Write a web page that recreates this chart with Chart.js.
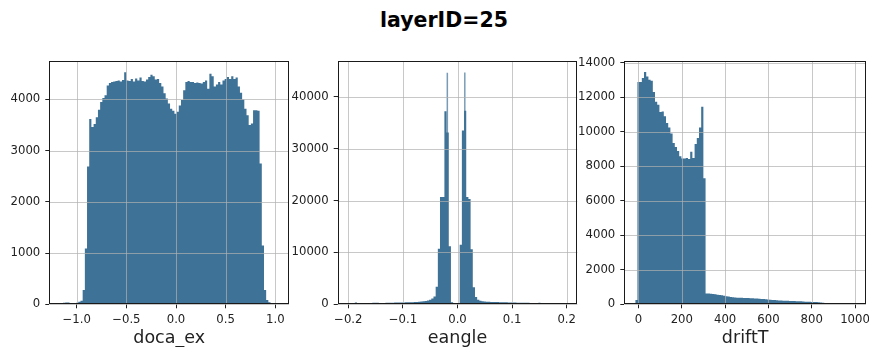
<!DOCTYPE html>
<html><head><meta charset="utf-8">
<script src="https://cdn.jsdelivr.net/npm/chart.js@4.4.1/dist/chart.umd.min.js"></script>
<style>
html,body{margin:0;padding:0;background:#fff;width:869px;height:347px;overflow:hidden;position:relative}
canvas{position:absolute;top:0}
#title{position:absolute;top:10px;left:0;width:888px;text-align:center;font:bold 20.5px "DejaVu Sans";line-height:20px;color:#000}
</style></head><body>
<div id="title">layerID=25</div>
<canvas id="c1" width="309" height="347" style="left:0px"></canvas>
<canvas id="c2" width="309" height="347" style="left:288px"></canvas>
<canvas id="c3" width="311" height="347" style="left:575px"></canvas>
<script>
// ---- doca_ex histogram (100 bins) ----
const docaLo = -1.16;
const docaBinWidth = 0.022;
const docaCounts = [
  15, 30, 35, 35, 25, 20, 15, 30, 50, 70,
  280, 1090, 2690, 3620, 3460, 3520, 3650, 3800, 3950, 4030,
  4080, 4270, 4320, 4340, 4350, 4360, 4370, 4350, 4380, 4530,
  4370, 4360, 4400, 4350, 4410, 4370, 4430, 4360, 4350, 4390,
  4440, 4480, 4450, 4390, 4400, 4320, 4250, 4120, 4020, 3920,
  3820, 3780, 3720, 3760, 3880, 3990, 4180, 4340, 4360, 4340,
  4340, 4320, 4330, 4320, 4310, 4340, 4370, 4210, 4500, 4450,
  4250, 4290, 4340, 4290, 4370, 4400, 4440, 4400, 4450, 4400,
  4430, 4250, 4130, 4000, 3820, 3690, 3500, 3530, 3790, 3790,
  3780, 2750, 1150, 280, 85, 40, 15, 5, 0, 2
];
// ---- eangle histogram (100 bins) ----
const eangleLo = -0.2;
const eangleBinWidth = 0.004;
const eangleCounts = [
  0, 0, 0, 350, 0, 0, 0, 0, 0, 0,
  250, 300, 300, 280, 200, 0, 250, 280, 300, 300,
  320, 330, 340, 350, 360, 370, 380, 390, 400, 410,
  430, 450, 480, 520, 580, 650, 750, 900, 1100, 1500,
  3400, 10700, 20700, 20700, 37200, 33100, 11200, 400, 50, 0,
  0, 11500, 33500, 37300, 20700, 20300, 10600, 3300, 1400, 900,
  700, 600, 550, 500, 480, 460, 440, 430, 420, 410,
  400, 390, 380, 370, 350, 340, 330, 320, 310, 300,
  300, 290, 280, 270, 260, 250, 100, 300, 0, 0,
  0, 0, 0, 0, 0, 0, 0, 0, 0, 0
];
const eangleSpikeX = [-0.020, 0.012];
const eangleSpikeCounts = [44650, 44700];
// ---- driftT histogram (100 bins) ----
const driftLo = -15;
const driftBinWidth = 10.15;
const driftCounts = [
  250, 12880, 12880, 13120, 13460, 13200, 13020, 12950, 12300, 11740,
  11570, 11150, 11180, 10900, 10500, 10240, 9900, 9350, 9120, 8880,
  8580, 8450, 8450, 8480, 8420, 8840, 8480, 9290, 9640, 10250,
  11450, 7300, 630, 620, 610, 590, 580, 560, 540, 520,
  500, 470, 450, 430, 410, 400, 385, 380, 375, 370,
  365, 360, 350, 345, 340, 330, 320, 310, 300, 290,
  275, 265, 255, 245, 230, 220, 215, 210, 205, 200,
  195, 190, 185, 180, 175, 170, 160, 155, 150, 145,
  140, 135, 130, 120, 110, 90, 15, 10, 10, 60,
  5, 5, 3, 3, 2, 2, 2, 1, 1, 2
];
// ---- ticks ----
const docaXTicks = [-1.0, -0.5, 0.0, 0.5, 1.0];
const docaYTicks = [0, 1000, 2000, 3000, 4000];
const eangleXTicks = [-0.2, -0.1, 0.0, 0.1, 0.2];
const eangleYTicks = [0, 10000, 20000, 30000, 40000];
const driftXTicks = [0, 200, 400, 600, 800, 1000];
const driftYTicks = [0, 2000, 4000, 6000, 8000, 10000, 12000, 14000];

const BAR = '#3f7297';
const FONT = 'DejaVu Sans';

// histogram outline: one point per bin edge, each bin's count held until the next edge
function binEdges(lo, w, counts) {
  const pts = counts.map((c, i) => ({x: lo + i * w, y: c}));
  pts.push({x: lo + counts.length * w, y: counts[counts.length - 1]});
  return pts;
}
function fmt1(v) { return (v < 0 ? '\u2212' : '') + Math.abs(v).toFixed(1); }

const gridOnTop = {
  id: 'gridOnTop',
  afterDatasetsDraw(chart) {
    const {ctx, chartArea: a} = chart;
    const xs = chart.scales.x, ys = chart.scales.y;
    ctx.save();
    ctx.strokeStyle = 'rgba(176,176,176,0.7)';
    ctx.lineWidth = 1;
    ctx.beginPath();
    xs.ticks.forEach((t, i) => {
      const p = Math.round(xs.getPixelForTick(i)) + 0.5;
      ctx.moveTo(p, a.top); ctx.lineTo(p, a.bottom);
    });
    ys.ticks.forEach((t, i) => {
      const p = Math.round(ys.getPixelForTick(i)) + 0.5;
      ctx.moveTo(a.left, p); ctx.lineTo(a.right, p);
    });
    ctx.stroke();
    ctx.strokeStyle = '#1a1a1a';
    const l = Math.round(a.left) + 0.5, t = Math.round(a.top) + 0.5;
    const r = Math.round(a.right) - 0.5, b = Math.round(a.bottom) - 0.5;
    ctx.strokeRect(l, t, r - l, b - t);
    ctx.restore();
  }
};

function makePanel(id, cfg) {
  const scales = {
    x: {
      type: 'linear', min: cfg.xMin, max: cfg.xMax, offset: false,
      grid: {offset: false, drawOnChartArea: false, drawTicks: true, tickLength: 4, tickColor: '#222', tickWidth: 1},
      border: {display: false},
      afterBuildTicks: s => { s.ticks = cfg.xTicks.map(v => ({value: v})); },
      afterFit: s => { s.height = 347 - 304.3; },
      ticks: {autoSkip: false, maxRotation: 0, minRotation: 0, padding: 5, color: '#222',
              font: {family: FONT, size: 11.7}, callback: v => cfg.xFmt(v)},
      title: {display: true, text: cfg.xLabel, color: '#222', font: {family: FONT, size: 17.5}, padding: {top: 0, bottom: -2}}
    },
    y: {
      type: 'linear', min: 0, max: cfg.yMax,
      grid: {drawOnChartArea: false, drawTicks: true, tickLength: 4, tickColor: '#222', tickWidth: 1},
      border: {display: false},
      afterBuildTicks: s => { s.ticks = cfg.yTicks.map(v => ({value: v})); },
      afterFit: s => { s.width = cfg.yWidth; },
      ticks: {autoSkip: false, padding: 5, color: '#222', font: {family: FONT, size: 11.7}, callback: v => String(v)}
    }
  };
  const datasets = [{
    type: 'line', data: binEdges(cfg.lo, cfg.w, cfg.counts), xAxisID: 'x', yAxisID: 'y',
    stepped: 'before', fill: 'origin', backgroundColor: BAR, borderWidth: 0, borderColor: 'rgba(0,0,0,0)',
    pointRadius: 0, pointHoverRadius: 0, tension: 0
  }];
  if (cfg.spikeX) {
    scales.x2 = {type: 'linear', display: false, min: cfg.xMin, max: cfg.xMax, offset: false, grid: {offset: false}};
    datasets.push({
      type: 'bar', data: cfg.spikeX.map((x, i) => ({x: x, y: cfg.spikeY[i]})), xAxisID: 'x2', yAxisID: 'y',
      backgroundColor: 'rgba(63,114,151,0.7)', borderWidth: 0, barThickness: 1.5, inflateAmount: 0
    });
  }
  return new Chart(document.getElementById(id), {
    type: 'line',
    data: {datasets},
    options: {
      responsive: false, animation: false, devicePixelRatio: 1,
      layout: {padding: {top: 61, bottom: 0, left: 0, right: cfg.padRight}},
      plugins: {legend: {display: false}, tooltip: {enabled: false}, title: {display: false}},
      scales
    },
    plugins: [gridOnTop]
  });
}

makePanel('c1', {lo: docaLo, w: docaBinWidth, counts: docaCounts, xMin: -1.276, xMax: 1.138, yMax: 4750,
  xTicks: docaXTicks, yTicks: docaYTicks, xFmt: fmt1, xLabel: 'doca_ex', yWidth: 49.3, padRight: 20});
makePanel('c2', {lo: eangleLo, w: eangleBinWidth, counts: eangleCounts, xMin: -0.2194, xMax: 0.2194, yMax: 46900,
  xTicks: eangleXTicks, yTicks: eangleYTicks, xFmt: fmt1, xLabel: 'eangle', yWidth: 49.7, padRight: 19.7,
  spikeX: eangleSpikeX, spikeY: eangleSpikeCounts});
makePanel('c3', {lo: driftLo, w: driftBinWidth, counts: driftCounts, xMin: -65.5, xMax: 1050.6, yMax: 14100,
  xTicks: driftXTicks, yTicks: driftYTicks, xFmt: v => String(v), xLabel: 'driftT', yWidth: 49.3, padRight: 20});
</script>
</body></html>
